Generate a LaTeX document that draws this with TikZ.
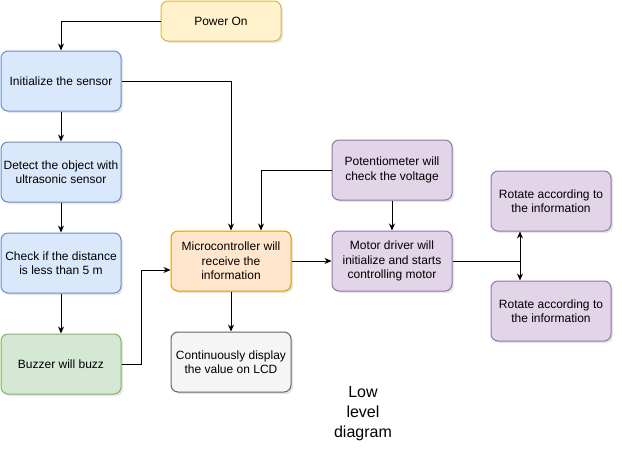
\documentclass[tikz,border=0pt]{standalone}
\usepackage{fontspec}
\setmainfont{Liberation Sans}
\usepackage{tikz}
\usetikzlibrary{arrows.meta, positioning, shadows}
\usepackage{xcolor}

\definecolor{blueFill}{HTML}{DAE8FC}
\definecolor{blueLine}{HTML}{6C8EBF}
\definecolor{yellowFill}{HTML}{FFF2CC}
\definecolor{yellowLine}{HTML}{D6B656}
\definecolor{greenFill}{HTML}{D5E8D4}
\definecolor{greenLine}{HTML}{82B366}
\definecolor{orangeFill}{HTML}{FFE6CC}
\definecolor{orangeLine}{HTML}{D79B00}
\definecolor{greyFill}{HTML}{F5F5F5}
\definecolor{greyLine}{HTML}{666666}
\definecolor{purpleFill}{HTML}{E1D5E7}
\definecolor{purpleLine}{HTML}{9673A6}

\tikzset{
    block/.style={draw, rounded corners=7pt, line width=1pt, minimum width=120pt,
        minimum height=60pt, align=center, inner sep=0pt,
        font=\fontsize{12}{14.5}\selectfont,
        drop shadow={shadow xshift=2pt, shadow yshift=-2pt, opacity=0.2}},
    bluebox/.style={block, fill=blueFill, draw=blueLine},
    yellowbox/.style={block, fill=yellowFill, draw=yellowLine, minimum height=40pt},
    greenbox/.style={block, fill=greenFill, draw=greenLine},
    orangebox/.style={block, fill=orangeFill, draw=orangeLine},
    greybox/.style={block, fill=greyFill, draw=greyLine},
    purplebox/.style={block, fill=purpleFill, draw=purpleLine},
}

\begin{document}
\begin{tikzpicture}[x=1pt, y=-1pt, node distance=30pt, >={Stealth[length=7pt, width=6pt]}]
    \useasboundingbox (0,0) rectangle (622,455);

    \node[yellowbox] (power_on) at (221,21) {Power On};
    \node[bluebox] (init_sensor) at (61,81) {Initialize the sensor};
    \node[bluebox, below=30pt of init_sensor] (detect_object) {Detect the object with\\ultrasonic sensor};
    \node[bluebox, below=30pt of detect_object] (check_distance) {Check if the distance\\is less than 5 m};
    \node[greenbox, below=40pt of check_distance] (buzzer) {Buzzer will buzz};

    \node[orangebox] (micro) at (231,261) {Microcontroller will\\receive the\\information};
    \node[greybox, below=40pt of micro] (lcd) {Continuously display\\the value on LCD};

    \node[purplebox, right=40pt of micro] (motor_driver) {Motor driver will\\initialize and starts\\controlling motor};
    \node[purplebox, above=30pt of motor_driver] (potentiometer) {Potentiometer will\\check the voltage};

    \node[purplebox] (rotate_up) at (551,201) {Rotate according to\\the information};
    \node[purplebox] (rotate_down) at (551,311) {Rotate according to\\the information};

    \node[align=center, font=\fontsize{16}{20}\selectfont] (caption) at (363,414) {Low\\level\\diagram};

    \draw[->, line width=1pt] (power_on.west) -| (init_sensor.north);
    \draw[->, line width=1pt] (init_sensor) -- (detect_object);
    \draw[->, line width=1pt] (detect_object) -- (check_distance);
    \draw[->, line width=1pt] (check_distance) -- (buzzer);
    \draw[->, line width=1pt] (init_sensor.east) -| (micro.north);
    \draw[->, line width=1pt] (potentiometer.west) -| ([xshift=30pt]micro.north);
    \draw[->, line width=1pt] (buzzer.east) -- ++(20,0) |- ([yshift=-9pt]micro.west);
    \draw[->, line width=1pt] (micro) -- (lcd);
    \draw[->, line width=1pt] (micro) -- (motor_driver);
    \draw[->, line width=1pt] (potentiometer) -- (motor_driver);

    \coordinate (split) at (520,261);
    \draw[line width=1pt] (motor_driver.east) -- (split);
    \draw[->, line width=1pt] (split) -- (split |- rotate_up.south);
    \draw[->, line width=1pt] (split) -- (split |- rotate_down.north);
\end{tikzpicture}
\end{document}
